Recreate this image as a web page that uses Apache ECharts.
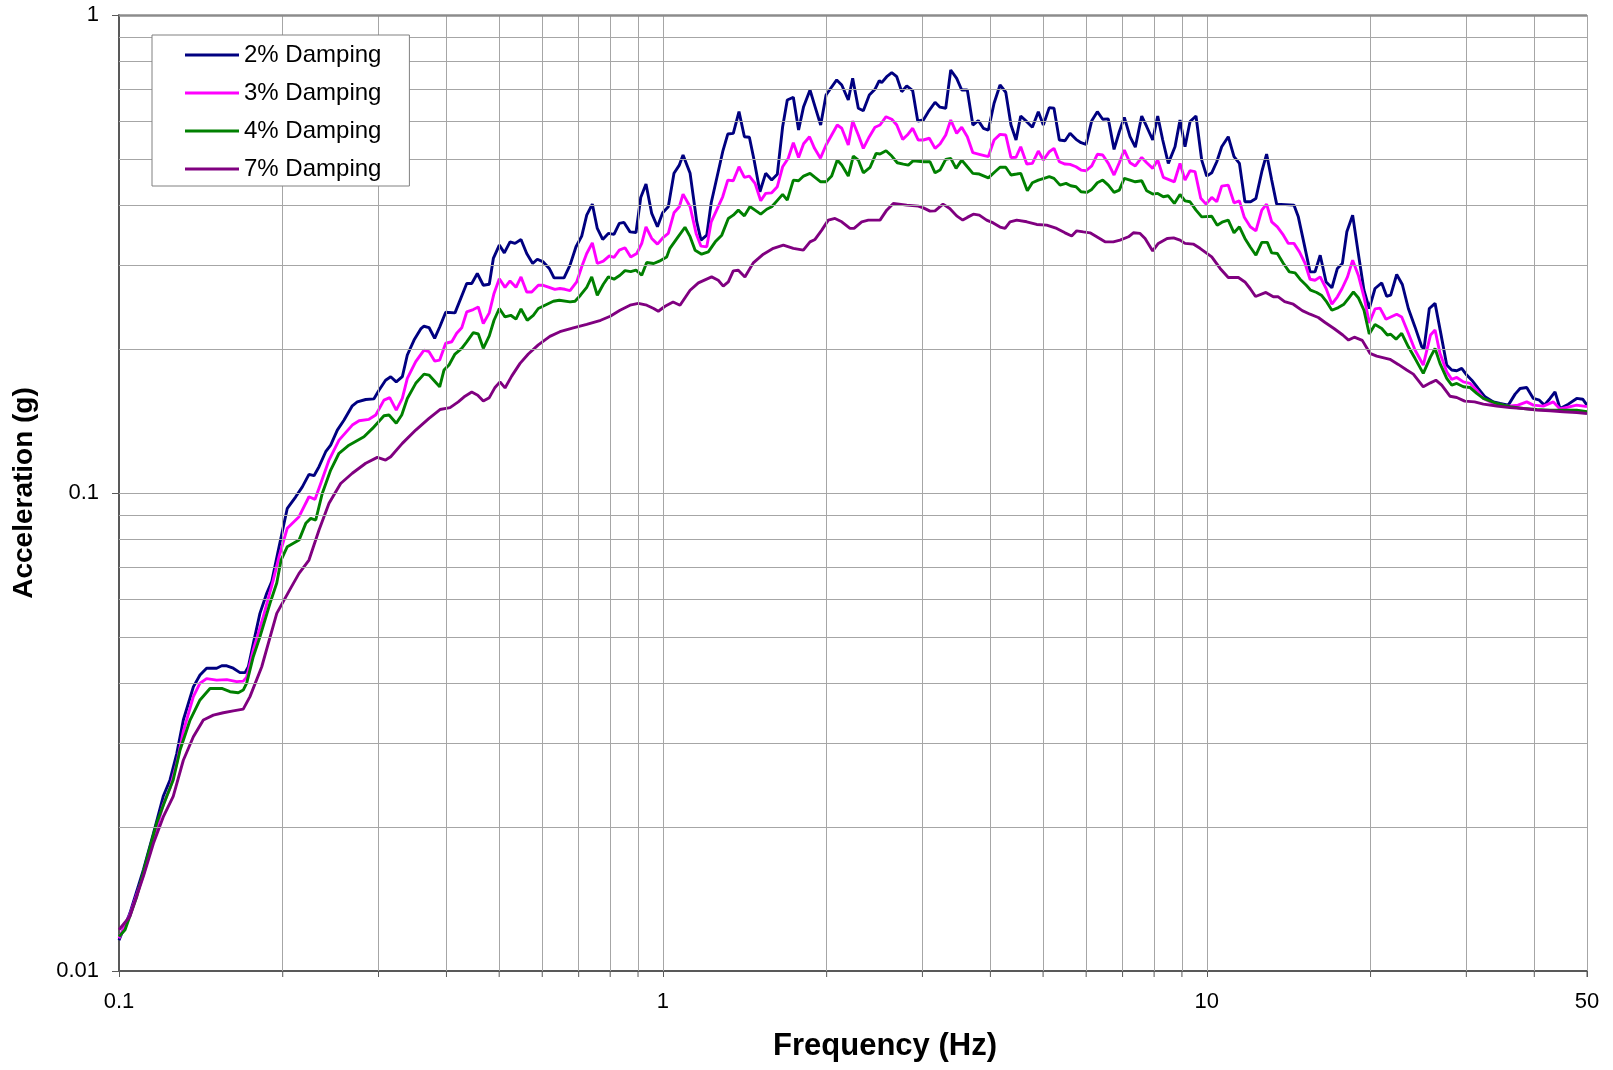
<!DOCTYPE html>
<html>
<head>
<meta charset="utf-8">
<title>Acceleration response spectrum</title>
<script src="https://cdn.jsdelivr.net/npm/echarts@6/dist/echarts.min.js"></script>
<style>
  html, body { margin: 0; padding: 0; background: #fff; }
  #chart { width: 1613px; height: 1070px; }
</style>
</head>
<body>
<div id="chart"></div>
<script>
// [frequency (Hz), acceleration (g)]
const damping2 = [
  [0.1,0.0116],[0.1047,0.0132],[0.1109,0.0163],[0.1157,0.0194],[0.1206,0.0232],[0.1241,0.0251],[0.1277,0.0285],[0.1313,0.0335],[0.1370,0.0393],[0.1409,0.0416],
  [0.1449,0.0430],[0.1512,0.0430],[0.1545,0.0435],[0.1578,0.0435],[0.1622,0.0430],[0.1669,0.0421],[0.1705,0.0421],[0.1729,0.0433],[0.1766,0.0485],[0.1816,0.0560],
  [0.1869,0.0617],[0.1909,0.0653],[0.1969,0.0772],[0.2039,0.0929],[0.2113,0.0982],[0.2173,0.1030],[0.2235,0.1094],[0.2283,0.1087],[0.2332,0.1135],[0.2399,0.1220],
  [0.2450,0.1259],[0.2520,0.1354],[0.2593,0.1421],[0.2685,0.1522],[0.2742,0.1551],[0.2842,0.1569],[0.2943,0.1574],[0.3006,0.1641],[0.3091,0.1722],[0.3159,0.1751],
  [0.3234,0.1708],[0.3318,0.1751],[0.3389,0.1944],[0.3487,0.2089],[0.3587,0.2204],[0.3637,0.2233],[0.3715,0.2219],[0.3805,0.2107],[0.3887,0.2225],[0.3987,0.2389],
  [0.4147,0.2381],[0.4358,0.2743],[0.4452,0.2743],[0.4558,0.2879],[0.4675,0.2720],[0.4795,0.2734],[0.4878,0.3095],[0.5003,0.3301],[0.5110,0.3179],[0.5235,0.3353],
  [0.5347,0.3328],[0.5484,0.3392],[0.5618,0.3170],[0.5762,0.3021],[0.5876,0.3084],[0.6026,0.3044],[0.6181,0.2950],[0.6307,0.2819],[0.6580,0.2819],[0.6749,0.2997],
  [0.6922,0.3274],[0.7091,0.3447],[0.7243,0.3813],[0.7417,0.4022],[0.7575,0.3577],[0.7750,0.3392],[0.7937,0.3492],[0.8130,0.3475],[0.8314,0.3664],[0.8482,0.3682],
  [0.8700,0.3518],[0.8923,0.3508],[0.9104,0.4152],[0.9309,0.4429],[0.9537,0.3845],[0.9771,0.3605],[0.999,0.3856],[1.023,0.3970],[1.048,0.4664],[1.072,0.4853],
  [1.089,0.5094],[1.122,0.4664],[1.154,0.3695],[1.175,0.3381],[1.204,0.3463],[1.227,0.4047],[1.288,0.5176],[1.316,0.5636],[1.347,0.5655],[1.380,0.6277],
  [1.412,0.5564],[1.442,0.5548],[1.471,0.4972],[1.508,0.4267],[1.545,0.4664],[1.585,0.4515],[1.623,0.4641],[1.660,0.5838],[1.693,0.6641],[1.737,0.6728],
  [1.776,0.5746],[1.814,0.6430],[1.864,0.6969],[1.904,0.6430],[1.950,0.5887],[1.995,0.6803],[2.029,0.6992],[2.087,0.7313],[2.132,0.7138],[2.192,0.6641],
  [2.233,0.7371],[2.287,0.6381],[2.336,0.6307],[2.396,0.6803],[2.454,0.6992],[2.499,0.7288],[2.525,0.7218],[2.579,0.7429],[2.635,0.7573],[2.691,0.7429],
  [2.748,0.6912],[2.807,0.7104],[2.879,0.6946],[2.941,0.6002],[3.012,0.6031],[3.076,0.6277],[3.165,0.6568],[3.232,0.6415],[3.311,0.6381],[3.382,0.7672],
  [3.468,0.7371],[3.543,0.6969],[3.628,0.6969],[3.714,0.5887],[3.801,0.6011],[3.883,0.5795],[3.966,0.5746],[4.063,0.6537],[4.167,0.7138],[4.269,0.6893],
  [4.365,0.5887],[4.459,0.5476],[4.548,0.6146],[4.666,0.5982],[4.778,0.5824],[4.900,0.6277],[5.005,0.5887],[5.133,0.6400],[5.236,0.6381],[5.356,0.5476],
  [5.487,0.5458],[5.604,0.5656],[5.748,0.5494],[5.871,0.5406],[5.997,0.5364],[6.144,0.6011],[6.291,0.6277],[6.436,0.6053],[6.590,0.6062],[6.752,0.5235],
  [6.904,0.5699],[7.052,0.6105],[7.225,0.5564],[7.388,0.5291],[7.591,0.6146],[7.754,0.5838],[7.953,0.5476],[8.123,0.6146],[8.297,0.5476],[8.496,0.4894],
  [8.740,0.5302],[8.927,0.6031],[9.118,0.5302],[9.313,0.5982],[9.552,0.6146],[9.786,0.4972],[9.995,0.4602],[10.21,0.4676],[10.43,0.4932],[10.65,0.5302],
  [10.95,0.5564],[11.22,0.5057],[11.48,0.4894],[11.75,0.4067],[12.04,0.4067],[12.31,0.4133],[12.62,0.4700],[12.88,0.5118],[13.16,0.4515],[13.44,0.4021],
  [14.46,0.4002],[14.73,0.3782],[15.09,0.3328],[15.48,0.2901],[15.81,0.2901],[16.16,0.3144],[16.57,0.2764],[16.98,0.2688],[17.38,0.2950],[17.75,0.3021],
  [18.09,0.3519],[18.54,0.3813],[18.99,0.3170],[19.45,0.2656],[19.89,0.2432],[20.38,0.2678],[20.97,0.2751],[21.41,0.2580],[21.78,0.2593],[22.34,0.2865],
  [22.88,0.2730],[23.47,0.2432],[24.14,0.2226],[24.84,0.2022],[25.08,0.2006],[25.65,0.2432],[26.28,0.2493],[26.92,0.2160],[27.61,0.1852],[28.20,0.1808],
  [28.81,0.1802],[29.42,0.1823],[30.05,0.1765],[30.70,0.1722],[31.57,0.1654],[32.47,0.1589],[33.65,0.1551],[34.60,0.1539],[35.83,0.1527],[36.88,0.1610],
  [37.66,0.1654],[38.74,0.1662],[39.84,0.1577],[40.87,0.1564],[41.74,0.1527],[42.76,0.1577],[43.67,0.1628],[44.61,0.1502],[46.20,0.1534],[47.87,0.1577],
  [49.10,0.1571],[50,0.1527]
];

const damping3 = [
  [0.1,0.0117],[0.1047,0.0131],[0.1109,0.0159],[0.1157,0.0188],[0.1206,0.0223],[0.1241,0.0241],[0.1277,0.0272],[0.1313,0.0317],[0.1370,0.0375],[0.1409,0.0400],
  [0.1449,0.0409],[0.1512,0.0406],[0.1578,0.0407],[0.1646,0.0403],[0.1692,0.0404],[0.1717,0.0412],[0.1766,0.0470],[0.1842,0.0551],[0.1922,0.0658],[0.1969,0.0736],
  [0.2039,0.0844],[0.2143,0.0892],[0.2235,0.0982],[0.2293,0.0970],[0.2349,0.1047],[0.2433,0.1172],[0.2538,0.1290],[0.2685,0.1387],[0.2763,0.1416],[0.2881,0.1426],
  [0.2965,0.1456],[0.3070,0.1564],[0.3146,0.1583],[0.3234,0.1491],[0.3318,0.1577],[0.3389,0.1737],[0.3512,0.1883],[0.3637,0.1991],[0.3715,0.1975],[0.3805,0.1888],
  [0.3887,0.1897],[0.3987,0.2057],[0.4091,0.2072],[0.4177,0.2158],[0.4267,0.2216],[0.4358,0.2392],[0.4481,0.2420],[0.4577,0.2450],[0.4675,0.2262],[0.4795,0.2381],
  [0.4892,0.2615],[0.5003,0.2806],[0.5125,0.2693],[0.5235,0.2778],[0.5369,0.2693],[0.5484,0.2832],[0.5618,0.2634],[0.5739,0.2634],[0.5901,0.2720],[0.6026,0.2720],
  [0.6197,0.2690],[0.6330,0.2666],[0.6466,0.2678],[0.6604,0.2668],[0.6749,0.2651],[0.6942,0.2764],[0.7091,0.2973],[0.7243,0.3170],[0.7417,0.3337],[0.7575,0.3021],
  [0.7770,0.3055],[0.7971,0.3135],[0.8130,0.3111],[0.8314,0.3221],[0.8517,0.3259],[0.8726,0.3118],[0.8952,0.3170],[0.9143,0.3328],[0.9309,0.3605],[0.9537,0.3409],
  [0.9771,0.3316],[1.002,0.3427],[1.023,0.3492],[1.048,0.3856],[1.072,0.3970],[1.089,0.4220],[1.122,0.3970],[1.151,0.3492],[1.175,0.3284],[1.204,0.3273],
  [1.227,0.3693],[1.288,0.4166],[1.316,0.4515],[1.347,0.4500],[1.380,0.4814],[1.412,0.4574],[1.442,0.4603],[1.477,0.4444],[1.513,0.4086],[1.545,0.4234],
  [1.585,0.4246],[1.623,0.4373],[1.660,0.4814],[1.700,0.5016],[1.737,0.5406],[1.776,0.5036],[1.814,0.5379],[1.860,0.5564],[1.900,0.5260],[1.948,0.5016],
  [1.995,0.5345],[2.043,0.5609],[2.092,0.5887],[2.132,0.5795],[2.192,0.5345],[2.233,0.6002],[2.287,0.5609],[2.336,0.5260],[2.396,0.5564],[2.454,0.5824],
  [2.507,0.5887],[2.572,0.6126],[2.635,0.6053],[2.691,0.5887],[2.760,0.5494],[2.814,0.5609],[2.879,0.5795],[2.948,0.5476],[3.012,0.5476],[3.089,0.5523],
  [3.165,0.5260],[3.232,0.5371],[3.311,0.5609],[3.382,0.6031],[3.468,0.5656],[3.543,0.5824],[3.628,0.5564],[3.714,0.5151],[3.817,0.5112],[3.966,0.5057],
  [4.063,0.5476],[4.167,0.5628],[4.269,0.5609],[4.365,0.5030],[4.459,0.5040],[4.548,0.5302],[4.666,0.4877],[4.778,0.4894],[4.900,0.5193],[5.005,0.4972],
  [5.133,0.5176],[5.236,0.5260],[5.356,0.4932],[5.487,0.4877],[5.604,0.4870],[5.748,0.4814],[5.871,0.4738],[5.997,0.4722],[6.144,0.4834],[6.291,0.5112],
  [6.436,0.5094],[6.590,0.4894],[6.752,0.4626],[6.904,0.4908],[7.052,0.5218],[7.225,0.4908],[7.388,0.4834],[7.591,0.5036],[7.754,0.4908],[7.953,0.4777],
  [8.123,0.4972],[8.318,0.4574],[8.716,0.4478],[8.927,0.4894],[9.118,0.4515],[9.313,0.4722],[9.512,0.4704],[9.746,0.4137],[9.966,0.4021],[10.21,0.4152],
  [10.43,0.4067],[10.65,0.4386],[10.95,0.4407],[11.22,0.4047],[11.48,0.4086],[11.72,0.3773],[12.02,0.3605],[12.31,0.3536],[12.62,0.3906],[12.88,0.4021],
  [13.16,0.3693],[13.48,0.3605],[13.83,0.3463],[14.12,0.3328],[14.46,0.3328],[14.80,0.3195],[15.16,0.3021],[15.48,0.2800],[15.81,0.2787],[16.16,0.2832],
  [16.57,0.2678],[16.98,0.2483],[17.38,0.2573],[17.73,0.2678],[18.14,0.2832],[18.54,0.3070],[18.99,0.2855],[19.45,0.2573],[19.89,0.2269],[20.38,0.2427],
  [20.82,0.2436],[21.35,0.2309],[22.34,0.2366],[22.82,0.2335],[23.47,0.2158],[24.14,0.1991],[25.00,0.1852],[25.78,0.2141],[26.28,0.2193],[26.83,0.1960],
  [27.61,0.1794],[28.20,0.1729],[28.81,0.1745],[29.63,0.1708],[30.48,0.1695],[31.35,0.1641],[32.24,0.1577],[33.65,0.1539],[35.83,0.1520],[37.33,0.1527],
  [38.74,0.1551],[39.84,0.1527],[41.56,0.1520],[43.36,0.1551],[44.61,0.1499],[47.87,0.1527],[50,0.1516]
];

const damping4 = [
  [0.1,0.0118],[0.1026,0.0122],[0.1078,0.0143],[0.1124,0.0171],[0.1173,0.0204],[0.1224,0.0232],[0.1258,0.0251],[0.1295,0.0290],[0.1351,0.0335],[0.1409,0.0369],
  [0.1470,0.0390],[0.1545,0.0390],[0.1600,0.0384],[0.1657,0.0382],[0.1692,0.0387],[0.1717,0.0400],[0.1766,0.0455],[0.1816,0.0500],[0.1895,0.0588],[0.1950,0.0648],
  [0.1986,0.0724],[0.2039,0.0772],[0.2143,0.0797],[0.2205,0.0864],[0.2252,0.0885],[0.2300,0.0878],[0.2365,0.0999],[0.2450,0.1117],[0.2538,0.1211],[0.2647,0.1259],
  [0.2821,0.1311],[0.2925,0.1365],[0.3070,0.1451],[0.3137,0.1456],[0.3234,0.1399],[0.3310,0.1456],[0.3389,0.1577],[0.3512,0.1696],[0.3637,0.1773],[0.3715,0.1765],
  [0.3887,0.1668],[0.3958,0.1808],[0.4043,0.1852],[0.4147,0.1953],[0.4267,0.2008],[0.4358,0.2071],[0.4481,0.2165],[0.4577,0.2151],[0.4675,0.2008],[0.4795,0.2131],
  [0.4892,0.2298],[0.5003,0.2432],[0.5125,0.2335],[0.5251,0.2354],[0.5369,0.2310],[0.5484,0.2427],[0.5630,0.2298],[0.5777,0.2354],[0.5901,0.2432],[0.6070,0.2471],
  [0.6288,0.2519],[0.6449,0.2531],[0.6749,0.2511],[0.6893,0.2519],[0.7054,0.2593],[0.7243,0.2693],[0.7398,0.2832],[0.7575,0.2593],[0.7770,0.2734],[0.7937,0.2832],
  [0.8130,0.2801],[0.8339,0.2855],[0.8517,0.2918],[0.8726,0.2904],[0.8923,0.2925],[0.9143,0.2855],[0.9337,0.3036],[0.9616,0.3021],[0.9849,0.3055],[1.016,0.3118],
  [1.030,0.3250],[1.067,0.3438],[1.098,0.3597],[1.122,0.3438],[1.146,0.3221],[1.178,0.3160],[1.212,0.3195],[1.248,0.3353],[1.283,0.3463],[1.319,0.3753],
  [1.347,0.3813],[1.376,0.3906],[1.412,0.3800],[1.446,0.3974],[1.477,0.3906],[1.513,0.3831],[1.552,0.3923],[1.585,0.3970],[1.619,0.4080],[1.660,0.4214],
  [1.693,0.4100],[1.737,0.4515],[1.776,0.4500],[1.814,0.4603],[1.864,0.4664],[1.904,0.4574],[1.950,0.4478],[1.995,0.4478],[2.043,0.4603],[2.092,0.4972],
  [2.132,0.4853],[2.192,0.4603],[2.239,0.5069],[2.287,0.4972],[2.336,0.4676],[2.404,0.4802],[2.466,0.5136],[2.507,0.5119],[2.572,0.5200],[2.635,0.5069],
  [2.697,0.4908],[2.767,0.4877],[2.826,0.4853],[2.887,0.4957],[3.012,0.4932],[3.098,0.4932],[3.165,0.4676],[3.232,0.4738],[3.311,0.4988],[3.382,0.5012],
  [3.459,0.4777],[3.543,0.4972],[3.628,0.4814],[3.714,0.4664],[3.817,0.4648],[3.966,0.4562],[4.079,0.4700],[4.167,0.4802],[4.269,0.4802],[4.365,0.4626],
  [4.472,0.4648],[4.548,0.4664],[4.677,0.4288],[4.778,0.4457],[4.900,0.4515],[5.020,0.4552],[5.133,0.4589],[5.236,0.4552],[5.372,0.4407],[5.510,0.4444],
  [5.620,0.4393],[5.748,0.4373],[5.871,0.4267],[6.015,0.4255],[6.144,0.4316],[6.291,0.4457],[6.436,0.4515],[6.590,0.4407],[6.752,0.4255],[6.904,0.4302],
  [7.052,0.4552],[7.225,0.4515],[7.388,0.4478],[7.591,0.4500],[7.754,0.4288],[7.953,0.4220],[8.123,0.4234],[8.318,0.4166],[8.496,0.4186],[8.716,0.4035],
  [8.927,0.4214],[9.118,0.4086],[9.313,0.4067],[9.552,0.3906],[9.786,0.3782],[10.21,0.3794],[10.45,0.3634],[10.70,0.3693],[10.95,0.3723],[11.22,0.3502],
  [11.48,0.3605],[11.75,0.3409],[12.01,0.3274],[12.31,0.3144],[12.62,0.3344],[12.92,0.3344],[13.16,0.3179],[13.48,0.3170],[13.83,0.3021],[14.18,0.2901],
  [14.53,0.2888],[14.84,0.2801],[15.23,0.2720],[15.52,0.2656],[15.92,0.2627],[16.24,0.2593],[16.61,0.2510],[16.98,0.2412],[17.45,0.2443],[17.87,0.2483],
  [18.22,0.2555],[18.60,0.2634],[18.99,0.2562],[19.45,0.2412],[19.89,0.2151],[20.38,0.2251],[20.97,0.2209],[21.47,0.2141],[21.78,0.2148],[22.28,0.2098],
  [22.82,0.2158],[23.47,0.2022],[24.14,0.1913],[25.00,0.1779],[25.78,0.1927],[26.28,0.2006],[26.83,0.1867],[27.61,0.1737],[28.20,0.1681],[28.81,0.1695],
  [29.63,0.1668],[30.48,0.1662],[31.35,0.1616],[32.24,0.1577],[34.12,0.1539],[36.09,0.1516],[38.19,0.1502],[40.42,0.1495],[42.76,0.1491],[45.23,0.1491],
  [47.87,0.1491],[50,0.1479]
];

const damping7 = [
  [0.1,0.0122],[0.1047,0.0130],[0.1109,0.0158],[0.1157,0.0185],[0.1206,0.0210],[0.1258,0.0232],[0.1313,0.0276],[0.1370,0.0309],[0.1429,0.0335],[0.1491,0.0343],
  [0.1555,0.0347],[0.1622,0.0350],[0.1692,0.0353],[0.1741,0.0375],[0.1830,0.0433],[0.1950,0.0560],[0.2060,0.0627],[0.2143,0.0679],[0.2235,0.0724],[0.2332,0.0837],
  [0.2433,0.0952],[0.2556,0.1047],[0.2685,0.1100],[0.2842,0.1154],[0.2985,0.1187],[0.3091,0.1172],[0.3159,0.1191],[0.3318,0.1270],[0.3512,0.1354],[0.3715,0.1432],
  [0.3892,0.1495],[0.4061,0.1509],[0.4205,0.1551],[0.4327,0.1594],[0.4452,0.1626],[0.4566,0.1602],[0.4675,0.1557],[0.4795,0.1583],[0.4913,0.1663],[0.5017,0.1708],
  [0.5125,0.1659],[0.5272,0.1756],[0.5462,0.1867],[0.5656,0.1953],[0.5901,0.2041],[0.6197,0.2126],[0.6466,0.2175],[0.6844,0.2216],[0.7243,0.2254],[0.7684,0.2298],
  [0.8001,0.2343],[0.8339,0.2412],[0.8700,0.2471],[0.9012,0.2493],[0.9337,0.2471],[0.9616,0.2432],[0.9807,0.2400],[1.009,0.2459],[1.044,0.2510],[1.075,0.2471],
  [1.122,0.2656],[1.162,0.2752],[1.229,0.2832],[1.264,0.2787],[1.291,0.2708],[1.319,0.2764],[1.347,0.2915],[1.376,0.2925],[1.415,0.2832],[1.466,0.3030],
  [1.530,0.3160],[1.596,0.3250],[1.665,0.3301],[1.737,0.3250],[1.812,0.3221],[1.864,0.3353],[1.904,0.3392],[1.959,0.3548],[2.014,0.3723],[2.072,0.3753],
  [2.132,0.3693],[2.208,0.3577],[2.246,0.3577],[2.320,0.3693],[2.386,0.3723],[2.507,0.3723],[2.579,0.3906],[2.652,0.4035],[2.807,0.4002],[2.948,0.3983],
  [3.012,0.3949],[3.098,0.3887],[3.165,0.3892],[3.273,0.4021],[3.368,0.3939],[3.468,0.3800],[3.558,0.3723],[3.628,0.3772],[3.721,0.3831],[3.817,0.3813],
  [3.937,0.3723],[4.048,0.3673],[4.167,0.3601],[4.256,0.3577],[4.347,0.3693],[4.472,0.3723],[4.666,0.3693],[4.866,0.3646],[5.077,0.3634],[5.297,0.3577],
  [5.487,0.3502],[5.644,0.3449],[5.765,0.3536],[5.929,0.3518],[6.100,0.3502],[6.275,0.3436],[6.499,0.3353],[6.731,0.3353],[6.925,0.3381],[7.178,0.3436],
  [7.327,0.3502],[7.538,0.3492],[7.700,0.3408],[7.953,0.3210],[8.143,0.3328],[8.454,0.3408],[8.689,0.3418],[8.927,0.3381],[9.118,0.3328],[9.441,0.3317],
  [9.716,0.3250],[10.21,0.3118],[10.58,0.2950],[10.95,0.2823],[11.43,0.2823],[11.75,0.2764],[12.01,0.2678],[12.29,0.2577],[12.84,0.2628],[13.25,0.2573],
  [13.53,0.2573],[13.90,0.2513],[14.42,0.2483],[14.98,0.2408],[15.48,0.2366],[16.03,0.2329],[16.50,0.2274],[17.13,0.2209],[17.78,0.2141],[18.22,0.2089],
  [18.67,0.2118],[19.31,0.2086],[19.95,0.1960],[20.53,0.1934],[21.71,0.1904],[22.49,0.1858],[23.31,0.1808],[23.97,0.1773],[25.00,0.1668],[25.78,0.1700],
  [26.37,0.1722],[27.03,0.1681],[27.99,0.1594],[28.81,0.1584],[29.79,0.1557],[31.07,0.1551],[32.24,0.1534],[34.12,0.1521],[36.09,0.1509],[38.19,0.1502],
  [40.42,0.1491],[42.76,0.1486],[45.23,0.1479],[47.87,0.1474],[50,0.1467]
];

// gridlines between the decade ticks
const xGridValues = [0.2, 0.3, 0.4, 0.5, 0.6, 0.7, 0.8, 0.9, 1, 2, 3, 4, 5, 6, 7, 8, 9, 10, 20, 30, 40, 50];
const yGridValues = [0.02, 0.03, 0.04, 0.05, 0.06, 0.07, 0.08, 0.09, 0.1, 0.2, 0.3, 0.4, 0.5, 0.6, 0.7, 0.8, 0.9];
const xTickValues = [0.2, 0.3, 0.4, 0.5, 0.6, 0.7, 0.8, 0.9, 2, 3, 4, 5, 6, 7, 8, 9, 20, 30, 40, 50];

const FONT = '"Liberation Sans", Arial, sans-serif';
const AXIS_COLOR = '#595959';
const GRID_COLOR = '#a6a6a6';

const chart = echarts.init(document.getElementById('chart'));

const lineSeries = (name, color, data) => ({
  name,
  type: 'line',
  data,
  symbol: 'none',
  showSymbol: false,
  smooth: false,
  z: 3,
  lineStyle: { color, width: 2.9 },
  itemStyle: { color },
  emphasis: { disabled: true }
});

const option = {
  animation: false,
  backgroundColor: '#fff',
  grid: { left: 119, right: 26, top: 15, bottom: 99, containLabel: false },
  legend: {
    data: ['2% Damping', '3% Damping', '4% Damping', '7% Damping'],
    orient: 'vertical',
    left: 152,
    top: 35,
    z: 20,
    backgroundColor: '#fff',
    borderColor: '#808080',
    borderWidth: 1,
    padding: [8, 28, 5, 33],
    icon: 'rect',
    itemWidth: 54,
    itemHeight: 3,
    itemGap: 14,
    selectedMode: false,
    textStyle: { fontFamily: FONT, fontSize: 24, color: '#000' }
  },
  xAxis: {
    type: 'log',
    logBase: 10,
    min: 0.1,
    max: 50,
    name: 'Frequency (Hz)',
    nameLocation: 'middle',
    nameGap: 60,
    nameTextStyle: { fontFamily: FONT, fontSize: 31, fontWeight: 'bold', color: '#000', padding: [0, 0, 0, 64] },
    axisLine: { show: true, onZero: false, lineStyle: { color: AXIS_COLOR, width: 2 } },
    axisTick: { show: true, length: 6, lineStyle: { color: AXIS_COLOR, width: 1 } },
    axisLabel: {
      fontFamily: FONT, fontSize: 22, color: '#000', margin: 20,
      showMinLabel: true, showMaxLabel: true,
      formatter: (v) => String(+v.toPrecision(6))
    },
    splitLine: { show: false },
    minorTick: { show: false }
  },
  yAxis: {
    type: 'log',
    logBase: 10,
    min: 0.01,
    max: 1,
    name: 'Acceleration (g)',
    nameLocation: 'middle',
    nameGap: 81,
    nameRotate: 90,
    nameTextStyle: { fontFamily: FONT, fontSize: 28, fontWeight: 'bold', color: '#000' },
    axisLine: { show: true, onZero: false, lineStyle: { color: AXIS_COLOR, width: 2 } },
    axisTick: { show: true, length: 7, lineStyle: { color: AXIS_COLOR, width: 1 } },
    axisLabel: {
      fontFamily: FONT, fontSize: 22, color: '#000', margin: 20,
      formatter: (v) => String(+v.toPrecision(6))
    },
    splitLine: { show: false },
    minorTick: { show: false }
  },
  series: [
    {
      name: 'gridlines',
      type: 'line',
      data: [],
      z: 1,
      silent: true,
      markLine: {
        silent: true,
        symbol: ['none', 'none'],
        label: { show: false },
        emphasis: { disabled: true },
        lineStyle: { color: GRID_COLOR, width: 1, type: 'solid' },
        data: [
          ...xGridValues.map((v) => ({ xAxis: v })),
          ...yGridValues.map((v) => ({ yAxis: v })),
          { yAxis: 1, lineStyle: { color: '#8c8c8c', width: 2.5, type: 'solid' } }
        ]
      }
    },
    lineSeries('2% Damping', '#000080', damping2),
    lineSeries('3% Damping', '#ff00ff', damping3),
    lineSeries('4% Damping', '#008000', damping4),
    lineSeries('7% Damping', '#800080', damping7)
  ]
};

chart.setOption(option);

// small outside ticks at every gridline of the frequency axis
const yBottom = chart.convertToPixel({ yAxisIndex: 0 }, 0.01);
chart.setOption({
  graphic: xTickValues.map((v) => {
    const x = chart.convertToPixel({ xAxisIndex: 0 }, v);
    return {
      type: 'line',
      silent: true,
      shape: { x1: x, y1: yBottom, x2: x, y2: yBottom + 6 },
      style: { stroke: AXIS_COLOR, lineWidth: 1 }
    };
  })
});
</script>
</body>
</html>
